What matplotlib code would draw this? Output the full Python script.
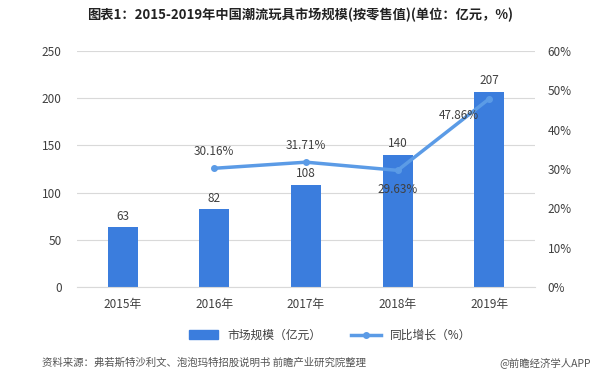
import matplotlib
matplotlib.use("Agg")
import matplotlib.pyplot as plt
import numpy as np
from matplotlib.patches import Patch
from matplotlib.lines import Line2D

plt.rcParams['font.family'] = ['Noto Sans CJK SC', 'DejaVu Sans']

years = ['2015年', '2016年', '2017年', '2018年', '2019年']
market = [63, 82, 108, 140, 207]
growth = [None, 30.16, 31.71, 29.63, 47.86]

bar_color = '#3b7ddd'
line_color = '#5b9be6'
txt_color = '#404040'

fig = plt.figure(figsize=(6, 3.8), dpi=100)
ax = fig.add_axes([0.128, 0.245, 0.764, 0.621])
ax2 = ax.twinx()

x = np.arange(len(years))
ax.bar(x, market, width=0.33, color=bar_color, zorder=2)
for xi, v in zip(x, market):
    ax.text(xi, v + 5, str(v), ha='center', va='bottom', fontsize=8.5, color=txt_color)

gx = [xi for xi, g in zip(x, growth) if g is not None]
gy = [g / 100 for g in growth if g is not None]
ax2.plot(gx, gy, color=line_color, lw=2.5, marker='o', ms=4, zorder=3)
offsets = {1: (0, 12), 2: (0, 12), 3: (0, -14), 4: (-22, -12)}
for xi, g in zip(gx, gy):
    dx, dy = offsets[xi]
    ax2.annotate(f'{g*100:.2f}%', (xi, g), xytext=(dx, dy), textcoords='offset points',
                 ha='center', va='center', fontsize=8.5, color=txt_color)

ax.set_xlim(-0.5, 4.5)
ax.set_ylim(0, 250)
ax.set_yticks(range(0, 251, 50))
ax2.set_ylim(0, 0.6)
ax2.set_yticks(np.arange(0, 0.61, 0.1))
ax2.set_yticklabels([f'{int(round(t*100))}%' for t in np.arange(0, 0.61, 0.1)])
ax.set_xticks(x)
ax.set_xticklabels(years)
ax.grid(axis='y', color='#d9d9d9', lw=0.8, zorder=0)
ax.set_axisbelow(True)
for a in (ax, ax2):
    for s in a.spines.values():
        s.set_visible(False)
    a.tick_params(length=0, labelsize=8.5, colors=txt_color, pad=8)
ax.tick_params(axis='y', pad=11)
ax2.tick_params(axis='y', pad=9)
ax.spines['bottom'].set_visible(True)
ax.spines['bottom'].set_color('#d9d9d9')

fig.text(0.5, 0.96, '图表1：2015-2019年中国潮流玩具市场规模(按零售值)(单位：亿元，%)',
         ha='center', va='center', fontsize=9.5, fontweight='bold', color='#222222')

handles = [Patch(color=bar_color, label='市场规模（亿元）'),
           Line2D([0], [0], color=line_color, lw=2.5, marker='o', ms=4, label='同比增长（%）')]
fig.legend(handles=handles, loc='center', bbox_to_anchor=(0.55, 0.118), ncol=2, frameon=False,
           fontsize=8.5, handlelength=2.5, columnspacing=2.5, labelcolor=txt_color)

fig.text(0.07, 0.045, '资料来源：弗若斯特沙利文、泡泡玛特招股说明书 前瞻产业研究院整理',
         ha='left', va='center', fontsize=7.5, color='#555555')
fig.text(0.985, 0.045, '@前瞻经济学人APP', ha='right', va='center', fontsize=7.5, color='#555555')

fig.savefig('out.png', dpi=100)
